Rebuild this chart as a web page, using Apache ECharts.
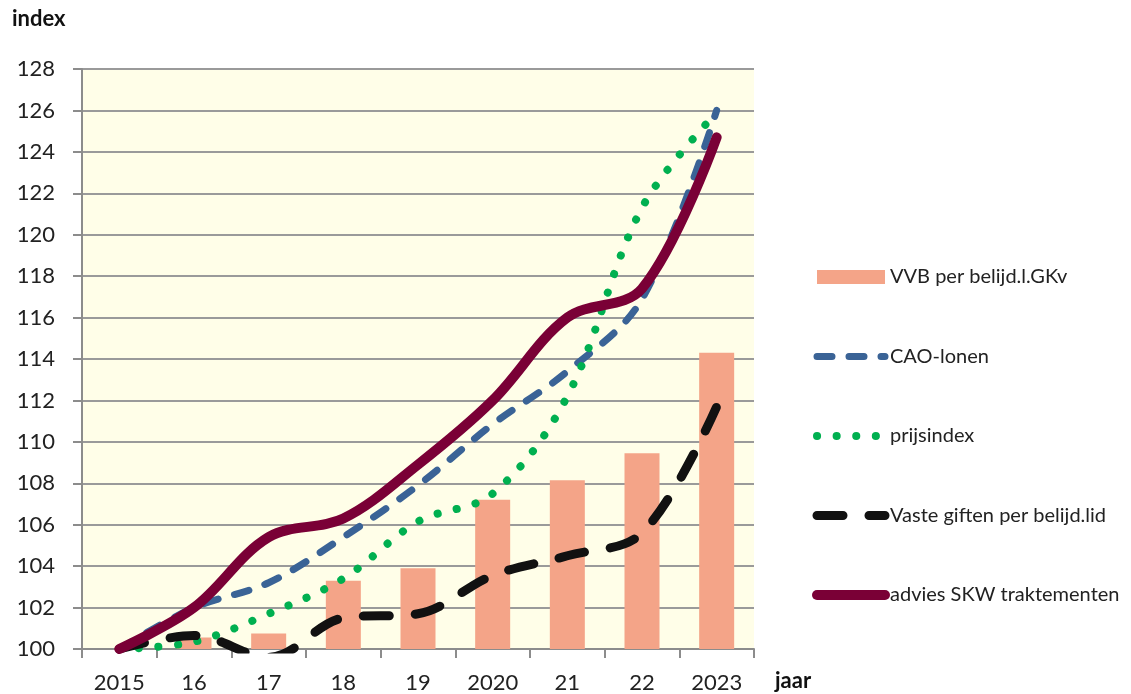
<!DOCTYPE html>
<html>
<head>
<meta charset="utf-8">
<script src="https://cdn.jsdelivr.net/npm/echarts@6/dist/echarts.min.js"></script>
<style>
html,body{margin:0;padding:0;background:#fff;}
#c{width:1131px;height:694px;}
</style>
</head>
<body>
<div id="c"></div>
<script>
const years = ['2015', '16', '17', '18', '19', '2020', '21', '22', '2023'];
const vvb = [100, 100.55, 100.75, 103.3, 103.9, 107.2, 108.15, 109.45, 114.3];
const cao = [100, 102.0, 103.2, 105.4, 107.9, 110.85, 113.4, 116.9, 126.0];
const prijs = [100, 100.35, 101.7, 103.4, 106.15, 107.5, 112.2, 121.3, 125.9];
const vaste = [100, 100.65, 99.6, 101.5, 101.7, 103.55, 104.5, 105.6, 111.7];
const advies = [100, 102.0, 105.4, 106.3, 108.9, 112.0, 116.0, 117.4, 124.7];
const seriesNames = ['VVB per belijd.l.GKv', 'CAO-lonen', 'prijsindex', 'Vaste giften per belijd.lid', 'advies SKW traktementen'];
const yMin = 100, yMax = 128, yStep = 2;

const FONT = 'Lato';
const chart = echarts.init(document.getElementById('c'), null, {renderer: 'canvas'});
chart.setOption({
  animation: false,
  textStyle: {fontFamily: FONT},
  grid: {left: 82, right: 377, top: 69, bottom: 43, show: true, backgroundColor: '#FFFEE8', borderWidth: 0},
  graphic: [
    {type: 'text', left: 12, top: 8, style: {text: 'index', font: 'bold 22px ' + FONT, fill: '#111'}},
    {type: 'text', left: 775, top: 670, style: {text: 'jaar', font: 'bold 22px ' + FONT, fill: '#111'}}
  ],
  legend: {
    orient: 'vertical',
    left: 812,
    top: 267,
    padding: 0,
    itemWidth: 68,
    itemHeight: 14,
    itemGap: 59.5,
    textStyle: {fontFamily: FONT, fontSize: 20, color: '#222'},
    lineStyle: {width: 'inherit'},
    data: seriesNames.map((n, i) => i === 0 ? {name: n, icon: 'rect'} : {name: n, itemStyle: {opacity: 0}})
  },
  xAxis: {
    type: 'category',
    data: years,
    boundaryGap: true,
    axisLine: {lineStyle: {color: '#8c8c8c', width: 2}},
    axisTick: {show: true, length: 9, lineStyle: {color: '#8c8c8c', width: 2}},
    axisLabel: {fontFamily: FONT, fontSize: 22, color: '#222', margin: 23}
  },
  yAxis: {
    type: 'value',
    min: yMin, max: yMax, interval: yStep,
    axisLine: {show: true, lineStyle: {color: '#8c8c8c', width: 2}},
    axisTick: {show: true, length: 9, lineStyle: {color: '#8c8c8c', width: 2}},
    axisLabel: {fontFamily: FONT, fontSize: 22, color: '#222', margin: 27},
    splitLine: {show: true, lineStyle: {color: '#9a9a9a', width: 2}}
  },
  series: [
    {
      name: seriesNames[0], type: 'bar', data: vvb, barWidth: 35,
      itemStyle: {color: '#F4A488'}, z: 1
    },
    {
      name: seriesNames[1], type: 'line', data: cao, smooth: 0.35, symbol: 'none',
      lineStyle: {color: '#3A6396', width: 7, type: [15, 17], cap: 'round'},
      itemStyle: {color: '#3A6396'}, z: 2
    },
    {
      name: seriesNames[2], type: 'line', data: prijs, smooth: 0.35, symbol: 'none',
      lineStyle: {color: '#00B050', width: 8, type: [0.1, 19.5], cap: 'round'},
      itemStyle: {color: '#00B050'}, z: 3
    },
    {
      name: seriesNames[3], type: 'line', data: vaste, smooth: 0.35, symbol: 'none',
      lineStyle: {color: '#111111', width: 9, type: [26, 26], cap: 'round'},
      itemStyle: {color: '#111111'}, z: 4
    },
    {
      name: seriesNames[4], type: 'line', data: advies, smooth: 0.35, symbol: 'none',
      lineStyle: {color: '#7A0036', width: 10, cap: 'round'},
      itemStyle: {color: '#7A0036'}, z: 5
    }
  ]
});
</script>
</body>
</html>
